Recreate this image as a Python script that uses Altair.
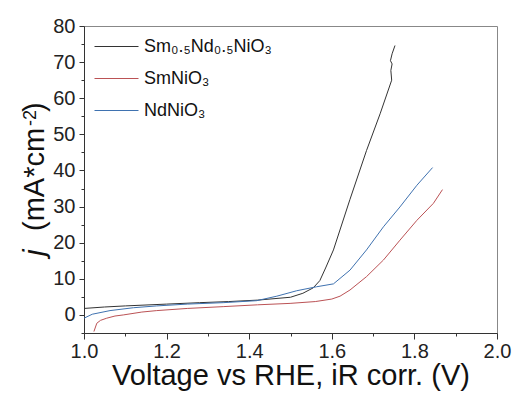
import altair as alt
import pandas as pd

series_names = ["Sm\u2080.\u2085Nd\u2080.\u2085NiO\u2083", "SmNiO\u2083", "NdNiO\u2083"]
series_colors = ["#333333", "#bb5255", "#3f72b0"]

v_smnd = [1.00, 1.05, 1.10, 1.20, 1.28, 1.35, 1.42, 1.50, 1.53, 1.555, 1.571, 1.585,
          1.604, 1.644, 1.684, 1.717, 1.745, 1.743, 1.746, 1.742, 1.746, 1.753]
j_smnd = [1.8, 2.2, 2.5, 3.0, 3.4, 3.7, 4.1, 4.9, 6.0, 7.5, 9.5, 13.0,
          18.0, 32.0, 45.5, 55.7, 65.0, 67.7, 69.5, 70.4, 72.3, 74.6]

v_sm = [1.024, 1.031, 1.04, 1.055, 1.075, 1.095, 1.14, 1.176, 1.25, 1.337, 1.42,
        1.499, 1.56, 1.60, 1.62, 1.644, 1.684, 1.725, 1.765, 1.806, 1.846, 1.868]
j_sm = [-4.6, -2.3, -1.5, -0.9, -0.3, 0.0, 0.8, 1.2, 1.8, 2.3, 2.8,
        3.2, 3.7, 4.4, 5.2, 6.9, 10.6, 15.2, 20.7, 26.2, 30.9, 34.7]

v_nd = [1.00, 1.02, 1.063, 1.12, 1.176, 1.25, 1.337, 1.418, 1.467, 1.515, 1.563,
        1.604, 1.644, 1.684, 1.725, 1.765, 1.806, 1.844]
j_nd = [-0.9, 0.2, 1.2, 2.0, 2.5, 3.0, 3.4, 3.95, 5.2, 6.7, 7.8,
        8.6, 12.4, 18.0, 24.4, 29.9, 35.9, 40.8]

x_ticks = [1.0, 1.1, 1.2, 1.3, 1.4, 1.5, 1.6, 1.7, 1.8, 1.9, 2.0]
y_ticks = [-5, 0, 5, 10, 15, 20, 25, 30, 35, 40, 45, 50, 55, 60, 65, 70, 75, 80]

rows = []
for name, vs, js in zip(series_names, [v_smnd, v_sm, v_nd], [j_smnd, j_sm, j_nd]):
    for i, (v, j) in enumerate(zip(vs, js)):
        rows.append({"series": name, "V": v, "j": j, "idx": i})
df = pd.DataFrame(rows)

FONT = "Liberation Sans"

xs = alt.Scale(domain=[1.0, 2.0], nice=False, zero=False)
ys = alt.Scale(domain=[-5, 80], nice=False, zero=False)

x_major_test = "round(datum.value*10) % 2 === 0"
y_major_test = "datum.value % 10 === 0"

lines = alt.Chart(df).mark_line(strokeWidth=1, clip=True).encode(
    x=alt.X("V:Q", scale=xs, axis=alt.Axis(
        values=x_ticks, title="Voltage vs RHE, iR corr. (V)",
        labelExpr=f"{x_major_test} ? format(datum.value, '.1f') : ''",
        tickSize={"condition": {"test": x_major_test, "value": 6}, "value": 3},
        labelFontSize=20, titleFontSize=29, labelPadding=2, titlePadding=0,
        grid=False, orient="bottom", labelOverlap=False, labelFlush=False)),
    y=alt.Y("j:Q", scale=ys, axis=alt.Axis(
        values=y_ticks, title=None,
        labelExpr=f"{y_major_test} ? datum.label : ''",
        tickSize={"condition": {"test": y_major_test, "value": 5}, "value": 3},
        labelFontSize=20, labelPadding=4, grid=False, orient="left",
        labelOverlap=False, labelFlush=False)),
    color=alt.Color("series:N", sort=series_names,
                    scale=alt.Scale(domain=series_names, range=series_colors),
                    legend=alt.Legend(title=None, orient="none", legendX=10, legendY=-2,
                                      symbolType="stroke", symbolSize=1936, symbolStrokeWidth=1,
                                      labelFontSize=18, labelFont=FONT, labelColor="#111",
                                      rowPadding=-3, labelOffset=5)),
    order="idx:Q",
)

ytitle_j = alt.Chart(pd.DataFrame({"t": ["j"]})).mark_text(
    angle=270, align="left", baseline="alphabetic", fontSize=30, font=FONT, fontStyle="italic", color="#111"
).encode(text="t:N", x=alt.value(-40), y=alt.value(230))

ytitle_main = alt.Chart(pd.DataFrame({"t": ["(mA*cm"]})).mark_text(
    angle=270, align="left", baseline="alphabetic", fontSize=29, font=FONT, color="#111"
).encode(text="t:N", x=alt.value(-40), y=alt.value(205))

ytitle_sup = alt.Chart(pd.DataFrame({"t": ["-2"]})).mark_text(
    angle=270, align="left", baseline="alphabetic", fontSize=18, font=FONT, color="#111"
).encode(text="t:N", x=alt.value(-48), y=alt.value(100))

ytitle_close = alt.Chart(pd.DataFrame({"t": [")"]})).mark_text(
    angle=270, align="left", baseline="alphabetic", fontSize=29, font=FONT, color="#111"
).encode(text="t:N", x=alt.value(-40), y=alt.value(86))

chart = alt.layer(lines, ytitle_j, ytitle_main, ytitle_sup, ytitle_close).properties(
    width=413, height=307,
    autosize=alt.AutoSizeParams(type="none"),
    padding={"left": 84, "top": 26, "right": 17, "bottom": 63},
).configure_view(stroke="#888", strokeWidth=1).configure_axis(
    labelFont=FONT, titleFont=FONT, labelColor="#222", titleColor="#111",
    domainColor="#333", tickColor="#333", titleFontWeight="normal",
)

chart.save("out.html", embed_options={"renderer": "svg", "actions": False})
